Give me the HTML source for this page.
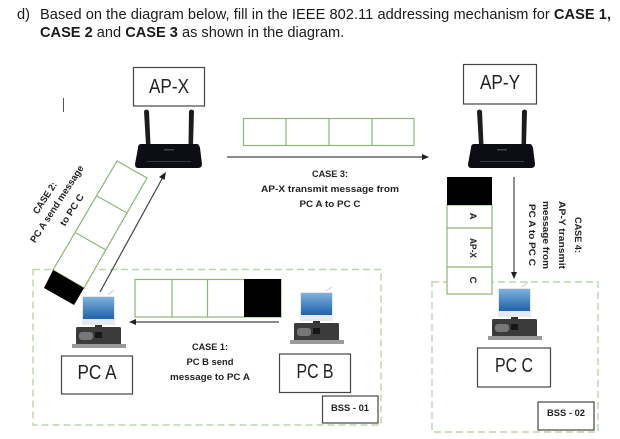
<!DOCTYPE html>
<html>
<head>
<meta charset="utf-8">
<style>
html,body{margin:0;padding:0;background:#fff;width:620px;height:439px;overflow:hidden}
svg{display:block}
.h{font:14.6px "Liberation Sans",sans-serif;fill:#1a1a1a}
.l{font:bold 9.5px "Liberation Sans",sans-serif;fill:#222;text-anchor:middle}
.n{font:20px "Liberation Sans",sans-serif;fill:#222;text-anchor:middle}
.box{fill:#fff;stroke:#444;stroke-width:1.2}
.g{fill:#fff;stroke:#8fb377;stroke-width:1.2}
.d{fill:none;stroke:#bcd6ab;stroke-width:1.4;stroke-dasharray:7 4}
.a{stroke:#444;stroke-width:1.2;fill:none}
</style>
</head>
<body>
<svg width="620" height="439" viewBox="0 0 620 439" xmlns="http://www.w3.org/2000/svg">
<defs>
<filter id="b" x="-5%" y="-5%" width="110%" height="110%"><feGaussianBlur stdDeviation="0.35"/></filter>
<linearGradient id="scr" x1="0" y1="0" x2="0" y2="1"><stop offset="0" stop-color="#7db2dc"/><stop offset="1" stop-color="#1f62ac"/></linearGradient>
<g id="router">
<path d="M-25 -33 Q-22.500 -36 -20 -33 L-18.500 1 L-23 1 Z" fill="#1c1c1e"/>
<path d="M20 -33 Q22.500 -36 25 -33 L24 1 L19.500 1 Z" fill="#1c1c1e"/>
<path d="M-28 0 L28 0 Q30 0 31 4 L33 20 Q33 24 29 24 L-31 24 Q-34 24 -34 20 L-31 4 Q-31 0 -28 0 Z" fill="#0f0f12"/>
<rect x="-5" y="5" width="10" height="1.500" fill="#444"/>
<rect x="-22" y="17" width="44" height="1" fill="#3a3a3e"/>
</g>
<g id="pc">
<rect x="0" y="0" width="33" height="29" fill="#e6e9ee"/>
<rect x="1" y="1" width="31" height="22" fill="url(#scr)"/>
<rect x="13" y="29" width="7" height="3" fill="#333"/>
<rect x="-6" y="31" width="45" height="18" rx="1.500" fill="#3b3b3b"/>
<rect x="-3" y="36" width="14" height="8" rx="3" fill="#777"/>
<rect x="13" y="36" width="7" height="6" fill="#161616"/>
<rect x="-10" y="48" width="54" height="4" fill="#9a9a9a"/>
</g>
</defs>

<g class="h">
<text x="17" y="19">d)</text>
<text x="40" y="19" textLength="571" lengthAdjust="spacing">Based on the diagram below, fill in the IEEE 802.11 addressing mechanism for <tspan font-weight="bold">CASE 1,</tspan></text>
<text x="40" y="37"><tspan font-weight="bold">CASE 2</tspan> and <tspan font-weight="bold">CASE 3</tspan> as shown in the diagram.</text>
</g>

<g filter="url(#b)">
<rect x="63" y="98" width="1" height="14" fill="#555"/>

<rect class="d" x="33" y="269.500" width="348" height="155.500"/>
<rect class="d" x="432" y="282" width="166" height="150"/>

<!-- AP-X -->
<rect class="box" x="133.500" y="67.500" width="71" height="38.500"/>
<text class="n" x="169" y="93" textLength="40" lengthAdjust="spacingAndGlyphs">AP-X</text>
<use href="#router" x="169" y="144"/>

<!-- AP-Y -->
<rect class="box" x="463.500" y="64.500" width="73" height="39.500"/>
<text class="n" x="500" y="89" textLength="40" lengthAdjust="spacingAndGlyphs">AP-Y</text>
<use href="#router" x="502" y="144"/>

<!-- Case 3 -->
<rect class="g" x="243.500" y="118.500" width="170.500" height="27"/>
<path class="g" d="M286 118.500V145.500M329 118.500V145.500M372 118.500V145.500"/>
<path class="a" d="M227 157H424"/>
<path d="M429 157L422 154V160Z" fill="#222"/>
<text class="l" x="330" y="177" textLength="36" lengthAdjust="spacingAndGlyphs">CASE 3:</text>
<text class="l" x="330" y="192" textLength="138" lengthAdjust="spacingAndGlyphs">AP-X transmit message from</text>
<text class="l" x="330" y="207" textLength="61" lengthAdjust="spacingAndGlyphs">PC A to PC C</text>

<!-- Case 2 strip -->
<path class="g" d="M117 161L147 178L84 288L53 270Z"/>
<path class="g" d="M97 196L127 213M76 233L106 250" fill="none"/>
<path d="M53 270L84 288L74 305L44 288Z" fill="#000"/>
<path class="a" d="M100 292L163 177"/>
<path d="M166 172L159 177L164.500 180Z" fill="#222"/>
<g transform="translate(45 198) rotate(-57)"><text class="l" x="0" y="3" textLength="36" lengthAdjust="spacingAndGlyphs">CASE 2:</text></g>
<g transform="translate(57 204) rotate(-57)"><text class="l" x="0" y="3" textLength="90" lengthAdjust="spacingAndGlyphs">PC A send message</text></g>
<g transform="translate(72 210) rotate(-57)"><text class="l" x="0" y="3" textLength="36" lengthAdjust="spacingAndGlyphs">to PC C</text></g>

<!-- Case 1 -->
<rect class="g" x="135" y="279.500" width="146" height="37.500"/>
<path class="g" d="M172 279.500V317M207.500 279.500V317"/>
<rect x="244" y="279" width="37" height="38" fill="#000"/>
<path class="a" d="M279 322H134"/>
<path d="M129 322L136 319V325Z" fill="#222"/>
<text class="l" x="210" y="350" textLength="36" lengthAdjust="spacingAndGlyphs">CASE 1:</text>
<text class="l" x="210" y="365" textLength="47" lengthAdjust="spacingAndGlyphs">PC B send</text>
<text class="l" x="210" y="380" textLength="80" lengthAdjust="spacingAndGlyphs">message to PC A</text>

<!-- PCs -->
<use href="#pc" x="82" y="296"/>
<use href="#pc" x="300" y="292"/>
<use href="#pc" x="498" y="288"/>
<path d="M108 295L114 290M326 291L332 287M522 287L528 282" stroke="#ccc" stroke-width="1" fill="none"/>

<rect class="box" x="61.500" y="356" width="71" height="38"/>
<text class="n" x="97" y="379" textLength="39" lengthAdjust="spacingAndGlyphs">PC A</text>
<rect class="box" x="279.500" y="354" width="71" height="38.500"/>
<text class="n" x="315" y="378" textLength="37" lengthAdjust="spacingAndGlyphs">PC B</text>
<rect class="box" x="477.500" y="348" width="73" height="39"/>
<text class="n" x="514" y="372" textLength="38" lengthAdjust="spacingAndGlyphs">PC C</text>

<rect class="box" x="322.500" y="396" width="55.500" height="27"/>
<text class="l" x="350" y="411" textLength="38" lengthAdjust="spacingAndGlyphs">BSS - 01</text>
<rect class="box" x="538" y="402" width="56" height="28"/>
<text class="l" x="566" y="416" textLength="38" lengthAdjust="spacingAndGlyphs">BSS - 02</text>

<!-- Case 4 strip -->
<rect class="g" x="447" y="205" width="45" height="89"/>
<path class="g" d="M447 228H492M447 267H492"/>
<rect x="447" y="177" width="45" height="28" fill="#000"/>
<g transform="translate(473 216) rotate(90)"><text class="l" x="0" y="3">A</text></g>
<g transform="translate(473 248) rotate(90)"><text class="l" x="0" y="3" textLength="20" lengthAdjust="spacingAndGlyphs">AP-X</text></g>
<g transform="translate(473 280) rotate(90)"><text class="l" x="0" y="3">C</text></g>
<path class="a" d="M514 177V274"/>
<path d="M514 279L511 272H517Z" fill="#222"/>
<g transform="translate(578 235) rotate(90)"><text class="l" x="0" y="3" textLength="36" lengthAdjust="spacingAndGlyphs">CASE 4:</text></g>
<g transform="translate(562 235) rotate(90)"><text class="l" x="0" y="3" textLength="68" lengthAdjust="spacingAndGlyphs">AP-Y transmit</text></g>
<g transform="translate(546 235) rotate(90)"><text class="l" x="0" y="3" textLength="68" lengthAdjust="spacingAndGlyphs">message from</text></g>
<g transform="translate(532 235) rotate(90)"><text class="l" x="0" y="3" textLength="62" lengthAdjust="spacingAndGlyphs">PC A to PC C</text></g>
</g>
</svg>
</body>
</html>
